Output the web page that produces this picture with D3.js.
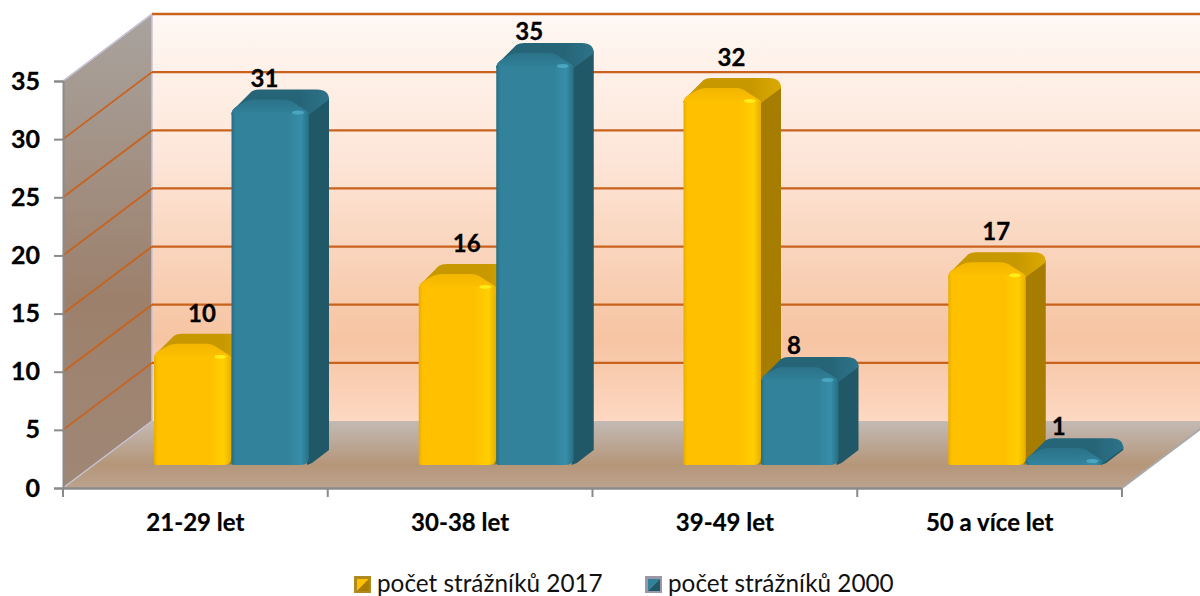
<!DOCTYPE html>
<html>
<head>
<meta charset="utf-8">
<script src="https://cdn.jsdelivr.net/npm/d3@7.9.0/dist/d3.min.js"></script>
<style>
  html, body { margin: 0; padding: 0; background: #fff; }
  svg { display: block; font-family: Lato, "Open Sans", sans-serif; }
</style>
</head>
<body>
<svg id="chart" width="1200" height="596"></svg>
<script>
const categories = ['21-29 let', '30-38 let', '39-49 let', '50 a více let'];
const seriesNames = ['počet strážníků 2017', 'počet strážníků 2000'];
const values2017 = [10, 16, 32, 17];
const values2000 = [31, 35, 8, 1];
const yTicks = [0, 5, 10, 15, 20, 25, 30, 35];

const width = 1200;
const height = 596;
const plot = { left: 63, right: 1122, top: 81, bottom: 488 };
const wallDx = 89;   // how far the back wall sits from the front plane
const wallDy = 67;
const barDx = 20;    // depth of one bar
const barDy = 15;
const barInset = 91; // left edge of first bar from start of band
const barBase = 465;
const barWidth = 77.5;

const svg = d3.select('#chart').attr('width', width).attr('height', height);
const defs = svg.append('defs');

const x0 = d3.scaleBand().domain(categories).range([plot.left, plot.right]);
const x1 = d3.scaleBand().domain(seriesNames).range([0, barWidth * 2]);
const y = d3.scaleLinear().domain([0, 35]).range([plot.bottom, plot.top]);

function gradient(id, stops, vertical) {
  const g = defs.append('linearGradient').attr('id', id)
    .attr('x1', 0).attr('y1', 0)
    .attr('x2', vertical ? 0 : 1).attr('y2', vertical ? 1 : 0);
  stops.forEach(s => g.append('stop').attr('offset', s[0]).attr('stop-color', s[1]));
}

gradient('backWall', [[0, '#fff8f4'], [0.35, '#fde6d8'], [0.8, '#f6c4a2'], [1, '#fdd8c2']], true);
gradient('sideWall', [[0, '#a9a39e'], [0.6, '#9c806c'], [1, '#a08876']], true);
gradient('floor', [[0, '#c3bab5'], [0.65, '#b59679'], [1, '#bca28d']], true);

const looks = [
  { key: 'y', front: '#ffc000', edge: '#e8ae00', shine: '#ffcf00', side: '#a67d00',
    top: '#c89800', topLight: '#dcaa00', bevel: '#f2b600', glint: '#ffec1a' },
  { key: 'b', front: '#31829a', edge: '#276d82', shine: '#378ea8', side: '#205867',
    top: '#266578', topLight: '#2d7389', bevel: '#2b7288', glint: '#4aa6c0' }
];
looks.forEach(l => {
  gradient('front' + l.key, [[0, l.edge], [0.05, l.front], [0.72, l.front], [0.9, l.shine], [1, l.edge]], false);
  gradient('top' + l.key, [[0, l.top], [0.7, l.top], [1, l.topLight]], false);
  gradient('bevel' + l.key, [[0, l.bevel], [1, l.front]], true);
});

const g = svg.append('g');

// walls and floor
g.append('path')
  .attr('d', `M${plot.left + wallDx},${y(35) - wallDy}H${width + 20}V${y(0) - wallDy}H${plot.left + wallDx}Z`)
  .attr('fill', 'url(#backWall)');
g.append('path')
  .attr('d', `M${plot.left},${y(35)}L${plot.left + wallDx},${y(35) - wallDy}V${y(0) - wallDy}L${plot.left},${y(0)}Z`)
  .attr('fill', 'url(#sideWall)');
g.append('path')
  .attr('d', `M${plot.left},${y(0)}L${plot.left + wallDx},${y(0) - wallDy}H${plot.right + wallDx}L${plot.right},${y(0)}Z`)
  .attr('fill', 'url(#floor)');

// wall edges
g.append('path')
  .attr('d', `M${plot.left},${y(35)}L${plot.left + wallDx},${y(35) - wallDy}V${y(0) - wallDy}L${plot.left},${y(0)}`)
  .attr('fill', 'none').attr('stroke', '#c9c2d6').attr('stroke-width', 1.5);

// gridlines, back wall and side wall
g.selectAll('.grid-back').data(yTicks.filter(d => d > 0)).join('line').attr('class', 'grid-back')
  .attr('x1', plot.left + wallDx).attr('x2', width)
  .attr('y1', d => y(d) - wallDy).attr('y2', d => y(d) - wallDy)
  .attr('stroke', '#c9621c').attr('stroke-width', 2.3);
g.selectAll('.grid-side').data(yTicks.filter(d => d > 0 && d < 35)).join('line').attr('class', 'grid-side')
  .attr('x1', plot.left).attr('x2', plot.left + wallDx)
  .attr('y1', d => y(d)).attr('y2', d => y(d) - wallDy)
  .attr('stroke', '#c9621c').attr('stroke-width', 1.8);
g.append('line')
  .attr('x1', plot.left).attr('x2', plot.left + wallDx)
  .attr('y1', y(35)).attr('y2', y(35) - wallDy)
  .attr('stroke', '#c9c2d6').attr('stroke-width', 1.5);

// one rounded 3d bar
function drawBar(parent, x, value, look) {
  const yBack = y(value) - (plot.bottom - barBase) - barDy;
  const yFront = Math.min(yBack + 23, barBase - 4);
  const r = Math.min(8, (barBase - yFront));
  const w = barWidth;
  const bar = parent.append('g');

  // right side
  bar.append('path')
    .attr('d', `M${x + w - 2},${yFront}L${x + w + barDx},${yBack + 8}V${barBase - barDy}L${x + w + 3},${barBase - 2}L${x + w - 2},${barBase}Z`)
    .attr('fill', look.side);

  // top surface
  bar.append('path')
    .attr('d', `M${x},${yFront + 2}Q${x},${yFront - 3} ${x + 5},${yFront - 6}L${x + 20},${yBack + 2}Q${x + 23},${yBack} ${x + 28},${yBack}H${x + w + 8}Q${x + w + barDx},${yBack} ${x + w + barDx},${yBack + 10}L${x + w},${yFront + 2}Z`)
    .attr('fill', 'url(#top' + look.key + ')');

  // lighter bevel along the front of the top
  bar.append('path')
    .attr('d', `M${x},${yFront + 2}Q${x},${yFront - 3} ${x + 5},${yFront - 6}L${x + 14},${yFront - 11}Q${x + 18},${yFront - 13} ${x + 23},${yFront - 13}H${x + w - 25}Q${x + w - 19},${yFront - 13} ${x + w - 14},${yFront - 9}L${x + w - 3},${yFront - 2}Q${x + w},${yFront} ${x + w},${yFront + 2}Z`)
    .attr('fill', 'url(#bevel' + look.key + ')');

  // front face
  bar.append('path')
    .attr('d', `M${x},${yFront}H${x + w}V${barBase - r}Q${x + w},${barBase} ${x + w - r},${barBase}H${x + 2}Q${x},${barBase} ${x},${barBase - 2}Z`)
    .attr('fill', 'url(#front' + look.key + ')');

  // small highlight at the corner
  bar.append('ellipse')
    .attr('cx', x + w - 11).attr('cy', yFront)
    .attr('rx', 6).attr('ry', 2)
    .attr('fill', look.glint);

  return yBack;
}

function valueLabel(x, yPos, value) {
  g.append('text')
    .attr('x', x).attr('y', yPos)
    .attr('text-anchor', 'middle').attr('font-size', 24).attr('font-weight', 700)
    .attr('stroke', '#000').attr('stroke-width', 0.3)
    .text(value);
}

categories.forEach((cat, i) => {
  const left = x0(cat) + barInset;
  const yy = drawBar(g, left + x1(seriesNames[0]), values2017[i], looks[0]);
  valueLabel(left + x1(seriesNames[0]) + 48, yy - 12, values2017[i]);
  const yb = drawBar(g, left + x1(seriesNames[1]), values2000[i], looks[1]);
  valueLabel(left + x1(seriesNames[1]) + 33, yb - 3, values2000[i]);
});

// axes
const yAxis = d3.axisLeft(y).tickValues(yTicks).tickSize(9).tickPadding(14);
const yG = svg.append('g').attr('transform', `translate(${plot.left},0)`).call(yAxis);
yG.select('.domain').attr('stroke', '#8a8a8a').attr('stroke-width', 2);
yG.selectAll('.tick line').attr('stroke', '#8a8a8a').attr('stroke-width', 2);
yG.selectAll('text').attr('font-size', 25).attr('font-weight', 700).attr('font-family', 'Lato')
  .attr('fill', '#000').attr('stroke', '#000').attr('stroke-width', 0.3);

const xAxis = d3.axisBottom(x0).tickSize(0).tickPadding(26);
const xG = svg.append('g').attr('transform', `translate(0,${plot.bottom})`).call(xAxis);
xG.select('.domain').attr('stroke', '#8a8a8a').attr('stroke-width', 2.5);
xG.selectAll('text').attr('font-size', 24).attr('font-weight', 700).attr('font-family', 'Lato')
  .attr('fill', '#000').attr('stroke', '#000').attr('stroke-width', 0.2);
xG.selectAll('.boundary').data(d3.range(categories.length + 1)).join('line').attr('class', 'boundary')
  .attr('x1', d => plot.left + d * x0.bandwidth()).attr('x2', d => plot.left + d * x0.bandwidth())
  .attr('y1', 0).attr('y2', 9)
  .attr('stroke', '#8a8a8a').attr('stroke-width', 2);

// floor edge on the right
svg.append('line')
  .attr('x1', plot.right).attr('y1', plot.bottom)
  .attr('x2', plot.right + wallDx).attr('y2', plot.bottom - wallDy)
  .attr('stroke', '#a9a9a9').attr('stroke-width', 2);

// legend
const legendX = [354, 645];
const swatch = 17;
seriesNames.forEach((name, i) => {
  const lg = svg.append('g').attr('transform', `translate(${legendX[i]},576)`);
  const look = looks[i];
  lg.append('rect').attr('width', swatch).attr('height', swatch).attr('fill', i ? '#9c97a8' : '#b08a20');
  lg.append('path').attr('d', `M3,3H${swatch - 2}L3,${swatch - 2}Z`).attr('fill', i ? '#31829a' : '#ffc000');
  lg.append('path').attr('d', `M${swatch - 2},3L3,${swatch - 2}H${swatch - 2}Z`).attr('fill', look.side);
  lg.append('text').attr('x', swatch + 6).attr('y', 16)
    .attr('font-size', 24.3).attr('fill', '#111').text(name);
});
</script>
</body>
</html>
